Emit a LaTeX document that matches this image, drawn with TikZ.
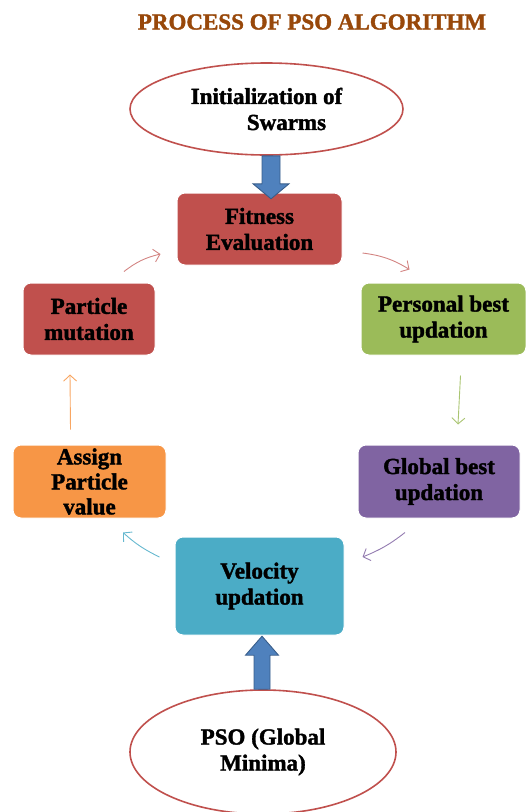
\documentclass[tikz,border=0pt]{standalone}
\usepackage{fontspec}
\setmainfont{Liberation Serif}[BoldFeatures={FakeBold=1.6}]
\usetikzlibrary{shapes.geometric,arrows.meta,calc}
\definecolor{TtlCol}  {RGB}{152,72,10}
\definecolor{RedFill} {RGB}{192,80,77}
\definecolor{GrnFill} {RGB}{155,187,89}
\definecolor{PurFill} {RGB}{128,100,162}
\definecolor{OrgFill} {RGB}{247,150,70}
\definecolor{TealFill}{RGB}{75,172,198}
\definecolor{BlkFill} {RGB}{79,129,189}
\definecolor{BlkLine} {RGB}{56,93,138}
\tikzset{
  nd_box/.style={rectangle,rounded corners=8pt,draw=white,line width=1pt,align=center,font=\fontsize{23}{26}\selectfont\bfseries,inner sep=0pt},
  nd_oval/.style={ellipse,draw=RedFill,fill=white,line width=1.6pt,align=center,font=\fontsize{23}{26}\selectfont\bfseries,inner sep=0pt},
  blk_arr/.style={draw=BlkLine,fill=BlkFill,line width=0.9pt,line join=miter},
  cyc/.style={-{Straight Barb[length=6pt,width=13pt]},line width=0.9pt},
}

\begin{document}
\begin{tikzpicture}[x=1pt,y=-1pt]
\useasboundingbox (0,0) rectangle (526,812);
\node[font=\fontsize{23}{26}\selectfont\bfseries,text=TtlCol] (ttl) at (312,22) {PROCESS OF PSO ALGORITHM};
% ovals
\node[nd_oval,minimum width=273pt,minimum height=92pt] (init) at (266.5,109) {Initialization of\\\hspace*{40pt}Swarms};
\node[nd_oval,minimum width=266pt,minimum height=124pt] (pso) at (263,752) {PSO (Global\\Minima)};
% boxes
\node[nd_box,fill=RedFill,minimum width=165pt,minimum height=72pt] (fit) at (259.5,229) {Fitness\\Evaluation};
\node[nd_box,fill=GrnFill,minimum width=165pt,minimum height=72pt] (pers) at (443.5,319) {Personal best\\updation};
\node[nd_box,fill=RedFill,minimum width=132pt,minimum height=72pt] (mut) at (89,319) {Particle\\mutation};
\node[nd_box,fill=PurFill,minimum width=162pt,minimum height=73pt] (glob) at (439,481.5) {Global best\\updation};
\node[nd_box,fill=OrgFill,minimum width=153pt,minimum height=73pt,font=\fontsize{23}{25}\selectfont\bfseries] (asg) at (89.5,481.5) {Assign\\Particle\\value};
\node[nd_box,fill=TealFill,minimum width=169pt,minimum height=98pt] (vel) at (259.5,586) {Velocity\\updation};
% block arrows
\draw[blk_arr]($(init.south)+(-4.5,0)$) -- ++(18,0) -- ++(0,28) -- ++(9,0) -- ++(-18,15) -- ++(-18,-15) -- ++(9,0) -- cycle;
\draw[blk_arr]($(pso.north)+(-9,0)$) -- ++(16,0) -- ++(0,-34) -- ++(8.5,0) -- ++(-16.5,-19) -- ++(-16.5,19) -- ++(8.5,0) -- cycle;
% cycle
\draw[cyc,draw=RedFill!70!white]($(fit.east)+(20,24)$) to[bend left=12] ($(pers.north west)+(49,-13)$);
\draw[cyc,draw=GrnFill!85!white]($(pers.south)+(17,20)$) -- ($(glob.north)+(19,-20)$);
\draw[cyc,draw=PurFill!85!white]($(glob.south)+(-34,14)$) to[bend left=8] ($(vel.east)+(18,-29)$);
\draw[cyc,draw=TealFill!85!white]($(vel.west)+(-15,-29)$) to[bend left=8] ($(asg.south)+(33.5,14)$);
\draw[cyc,draw=OrgFill!85!white]($(asg.north)+(-19,-15)$) -- ($(mut.south)+(-19,19)$);
\draw[cyc,draw=RedFill!70!white]($(mut.north)+(35,-11)$) to[bend left=12] ($(fit.west)+(-16,25)$);
\end{tikzpicture}
\end{document}
